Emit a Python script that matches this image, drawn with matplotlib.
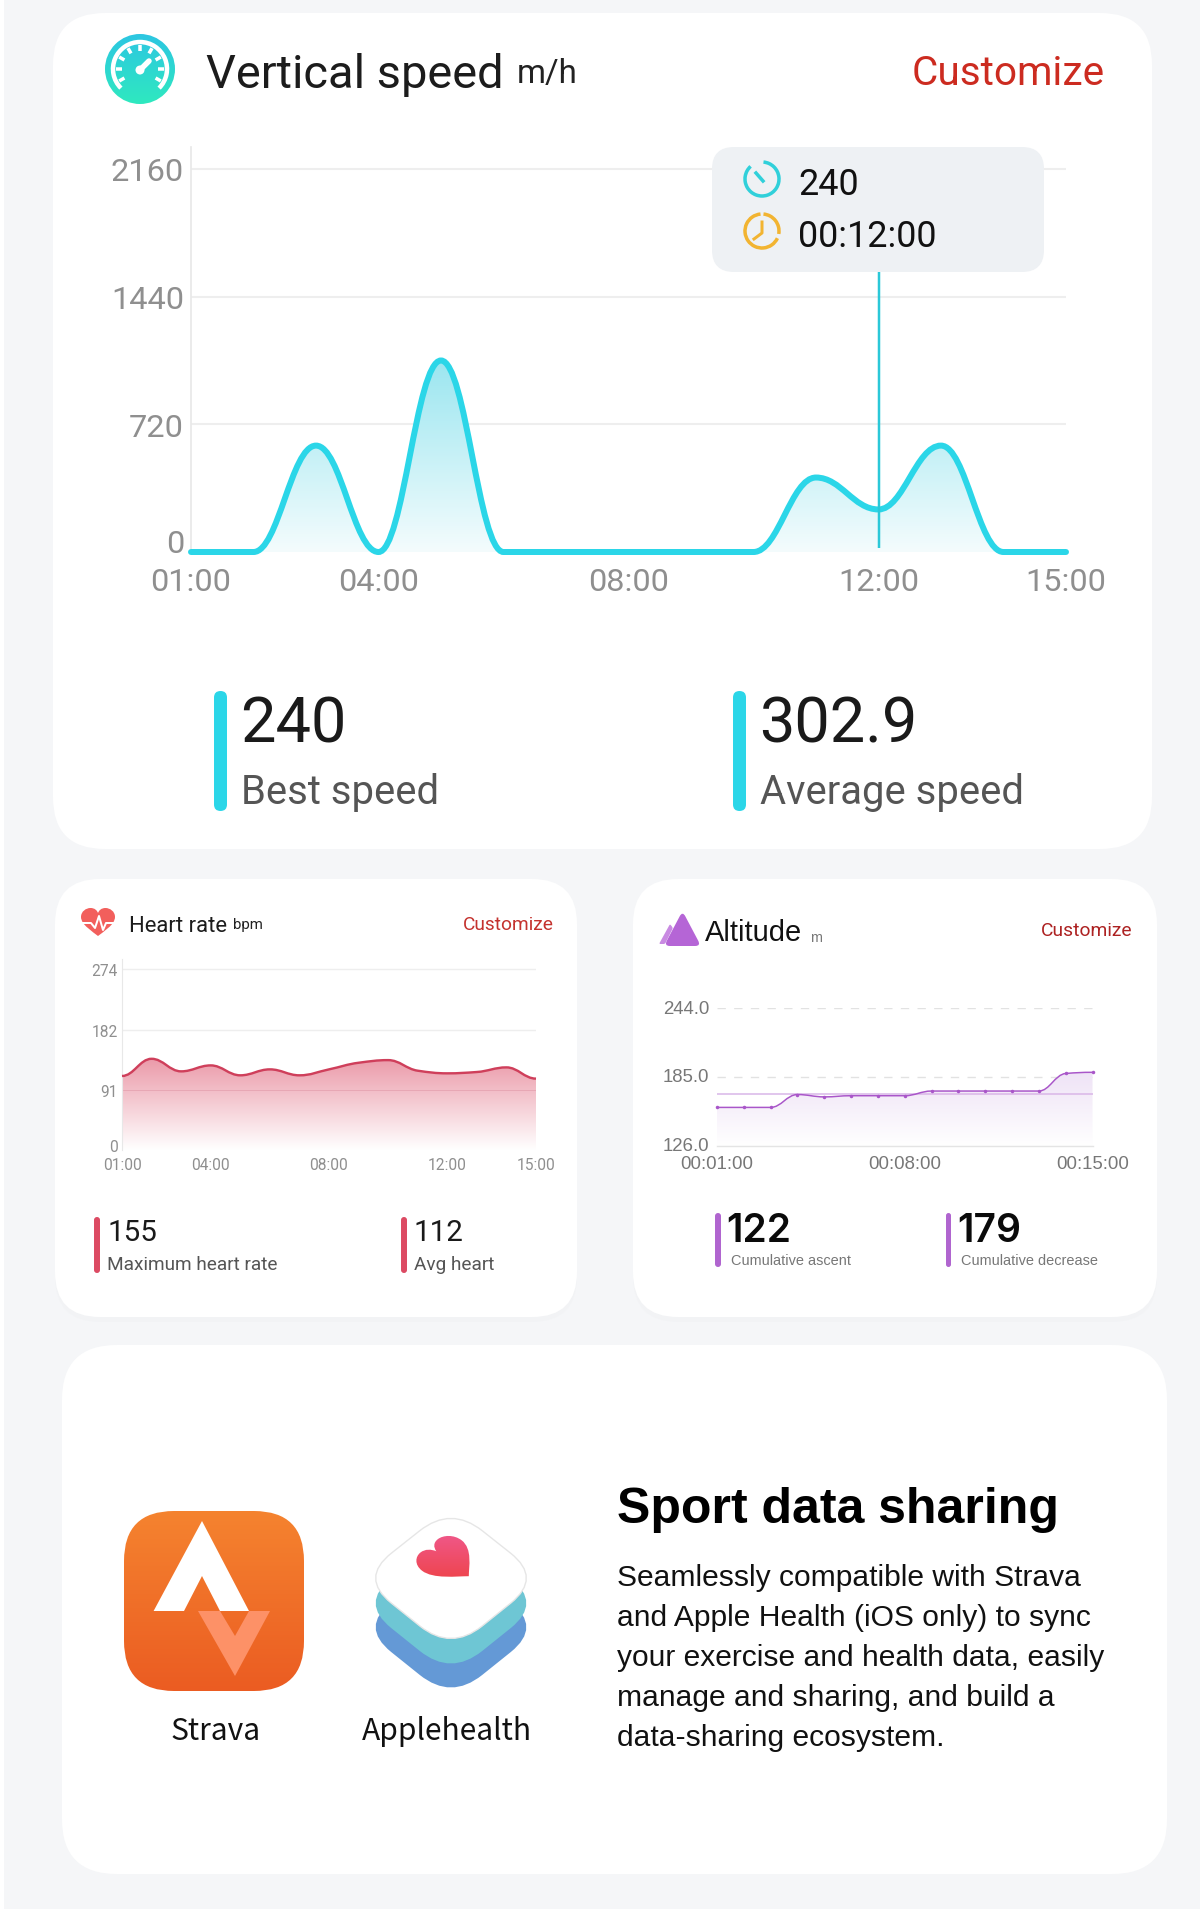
import numpy as np
import matplotlib
matplotlib.use('Agg')
import matplotlib.pyplot as plt
from matplotlib.patches import PathPatch, FancyBboxPatch, Rectangle, Circle, Arc
from matplotlib.path import Path
from matplotlib.colors import to_rgb
from matplotlib.transforms import ScaledTranslation

W, H = 1200, 1915

# vertical speed chart
speed_hours = [1, 2, 3, 4, 5, 6, 7, 8, 9, 10, 11, 12, 13, 14, 15]
speed_vals = [0, 0, 600, 0, 1080, 0, 0, 0, 0, 0, 420, 240, 600, 0, 0]
speed_yticks = [0, 720, 1440, 2160]
speed_xticks = [1, 4, 8, 12, 15]
speed_xlabels = ['01:00', '04:00', '08:00', '12:00', '15:00']
selected_hour = 12
tooltip_vals = ['240', '00:12:00']

# heart rate chart
hr_hours = [1, 2, 3, 4, 5, 6, 7, 8, 9, 10, 11, 12, 13, 14, 15]
hr_vals = [112, 138, 119, 128, 113, 122, 113, 122, 132, 136, 120, 116, 118, 125, 108]
hr_yticks = [0, 91, 182, 274]
hr_xticks = [1, 4, 8, 12, 15]
hr_xlabels = ['01:00', '04:00', '08:00', '12:00', '15:00']

# altitude chart
alt_mins = [1, 2, 3, 4, 5, 6, 7, 8, 9, 10, 11, 12, 13, 14, 15]
alt_vals = [159, 159, 159, 170, 168, 169, 169, 169, 173, 173, 173, 173, 173, 188, 189]
alt_avg = 170.4
alt_yticks = [126, 185, 244]
alt_ylabels = ['126.0', '185.0', '244.0']
alt_xticks = [1, 8, 15]
alt_xlabels = ['00:01:00', '00:08:00', '00:15:00']

body_lines = ['Seamlessly compatible with Strava',
              'and Apple Health (iOS only) to sync',
              'your exercise and health data, easily',
              'manage and sharing, and build a',
              'data-sharing ecosystem.']

CYAN = '#2bd6e8'
GRAY = '#8f8f8f'
RED = '#cc2b20'


def pt(px):
    return px * 0.72


def hermite_path(x, y, k=0.4):
    # monotone smooth line as a bezier path
    x = np.asarray(x, float)
    y = np.asarray(y, float)
    d = np.diff(y) / np.diff(x)
    m = np.zeros(len(x))
    for i in range(1, len(x) - 1):
        if d[i - 1] * d[i] > 0:
            m[i] = 2 * d[i - 1] * d[i] / (d[i - 1] + d[i])
    verts = [(x[0], y[0])]
    codes = [Path.MOVETO]
    for i in range(len(x) - 1):
        dx = x[i + 1] - x[i]
        verts += [(x[i] + k * dx, y[i] + m[i] * k * dx),
                  (x[i + 1] - k * dx, y[i + 1] - m[i + 1] * k * dx),
                  (x[i + 1], y[i + 1])]
        codes += [Path.CURVE4] * 3
    return verts, codes


def grad(ax, box, top, bottom, clip, a_top=1.0, a_bot=1.0, z=1):
    x0, x1, y_top, y_bot = box
    n = 256
    img = np.zeros((n, 2, 4))
    img[..., :3] = np.linspace(to_rgb(top), to_rgb(bottom), n)[:, None, :]
    img[..., 3] = np.linspace(a_top, a_bot, n)[:, None]
    lims = ax.get_xlim(), ax.get_ylim()
    im = ax.imshow(img, extent=(x0, x1, y_bot, y_top), origin='upper',
                   aspect='auto', zorder=z, interpolation='bilinear')
    ax.set_xlim(lims[0])
    ax.set_ylim(lims[1])
    im.set_clip_path(clip)
    return im


def rounded_poly(points, r):
    pts = np.asarray(points, float)
    n = len(pts)
    verts, codes = [], []
    for i in range(n):
        p, a, b = pts[i], pts[i - 1], pts[(i + 1) % n]
        s = p + (a - p) * r / np.linalg.norm(a - p)
        e = p + (b - p) * r / np.linalg.norm(b - p)
        verts += [s, p, e]
        codes += [Path.MOVETO if i == 0 else Path.LINETO, Path.CURVE3, Path.CURVE3]
    verts.append(verts[0])
    codes.append(Path.CLOSEPOLY)
    return Path(verts, codes)


def heart_path(cx, cy, w, h, rot=0):
    half = [(0, .5), (-.15, .35), (-.5, .1), (-.5, -.18), (-.5, -.38), (-.35, -.5),
            (-.22, -.5), (-.1, -.5), (-.03, -.42), (0, -.32)]
    mirror = [(-a, b) for a, b in half[::-1]][1:]
    v = np.array(half + mirror)
    t = np.radians(rot)
    x = v[:, 0] * np.cos(t) - v[:, 1] * np.sin(t)
    y = v[:, 0] * np.sin(t) + v[:, 1] * np.cos(t)
    verts = np.column_stack([cx + x * w, cy + y * h])
    return Path(verts, [Path.MOVETO] + [Path.CURVE4] * (len(verts) - 1))


def card(ax, x0, y0, x1, y1, r, shadow=False):
    if shadow:
        ax.add_patch(FancyBboxPatch((x0 + r, y0 + r + 5), x1 - x0 - 2 * r, y1 - y0 - 2 * r,
                                    boxstyle=f'round,pad={r},rounding_size={r}',
                                    fc='#eceef1', ec='none', alpha=0.3))
    ax.add_patch(FancyBboxPatch((x0 + r, y0 + r), x1 - x0 - 2 * r, y1 - y0 - 2 * r,
                                boxstyle=f'round,pad={r},rounding_size={r}',
                                fc='white', ec='none'))


def stat_bar(ax, x0, x1, y0, y1, color):
    r = (x1 - x0) / 2
    ax.add_patch(FancyBboxPatch((x0 + r, y0 + r), 0.01, y1 - y0 - 2 * r,
                                boxstyle=f'round,pad={r - 0.01},rounding_size={r - 0.01}',
                                fc=color, ec='none'))


def chart_axes(x0, y_top, x1, y_bot):
    a = fig.add_axes([x0 / W, 1 - y_bot / H, (x1 - x0) / W, (y_bot - y_top) / H])
    a.patch.set_alpha(0)
    for s in a.spines.values():
        s.set_visible(False)
    a.set_zorder(2)
    return a


def lift(label, px):
    label.set_transform(label.get_transform() + ScaledTranslation(0, px / 100, fig.dpi_scale_trans))


fig = plt.figure(figsize=(W / 100, H / 100), dpi=100, facecolor='white')

bg = fig.add_axes([0, 0, 1, 1])
bg.set_xlim(0, W)
bg.set_ylim(H, 0)
bg.axis('off')
bg.set_zorder(0)

top = fig.add_axes([0, 0, 1, 1])
top.set_xlim(0, W)
top.set_ylim(H, 0)
top.axis('off')
top.patch.set_alpha(0)
top.set_zorder(5)

bg.add_patch(Rectangle((4, 0), W - 4, H - 5, fc='#f5f6f8', ec='none'))
card(bg, 53, 14, 1152, 850, 52)
card(bg, 55, 880, 577, 1318, 45, shadow=True)
card(bg, 633, 880, 1157, 1318, 45, shadow=True)
card(bg, 62, 1346, 1167, 1875, 55)

# ---- vertical speed ----
ax1 = chart_axes(191, 148, 1066, 553)
ax1.set_xlim(1, 15)
ax1.set_ylim(0, 2284)
ax1.set_yticks(speed_yticks)
ax1.set_yticklabels([str(v) for v in speed_yticks])
ax1.set_xticks(speed_xticks)
ax1.set_xticklabels(speed_xlabels)
ax1.tick_params(length=0, labelsize=pt(32.5), labelcolor=GRAY, pad=pt(7))
ax1.tick_params(axis='x', pad=pt(15.5))
ax1.grid(axis='y', color='#eeeeee', lw=1.5)
ax1.set_axisbelow(True)
ax1.spines['left'].set_visible(True)
ax1.spines['left'].set_color('#e8e8e8')
ax1.spines['left'].set_linewidth(1.2)
for lab in ax1.get_xticklabels() + ax1.get_yticklabels():
    lab.set_fontfamily('Roboto')
lift(ax1.get_yticklabels()[0], 11)

verts, codes = hermite_path(speed_hours, speed_vals)
area = PathPatch(Path(verts + [(15, 0), (1, 0), (1, 0)], codes + [Path.LINETO, Path.LINETO, Path.CLOSEPOLY]),
                 transform=ax1.transData, fc='none', ec='none')
ax1.add_patch(area)
grad(ax1, (1, 15, max(speed_vals), 0), '#9be6f0', '#f4fcfd', area, z=1.5)
ax1.add_patch(PathPatch(Path(verts, codes), fc='none', ec=CYAN, lw=pt(6), capstyle='round',
                        zorder=3, clip_on=False))
ax1.vlines(selected_hour, 20, 1590, color='#2bc8d8', lw=pt(2.5), zorder=4)

# header
top.text(206, 88, 'Vertical speed', family='Roboto', fontsize=pt(47), color='#1c1c1c')
top.text(517, 83, 'm/h', family='Roboto', fontsize=pt(33), color='#222222')
top.text(912, 85, 'Customize', family='Roboto', fontsize=pt(40.5), color=RED)

# gauge icon
gauge = Circle((140, 70), 35, fc='none', ec='none')
top.add_patch(gauge)
grad(top, (105, 175, 35, 105), '#2cc6e2', '#2fe9bf', gauge, z=2)
top.add_patch(Arc((140, 70), 54, 54, theta1=135, theta2=405, color='white', lw=pt(4.5), zorder=3))
for a in np.radians(np.arange(-210, 31, 30)):
    top.plot([140 + 18 * np.cos(a), 140 + 24 * np.cos(a)], [70 + 18 * np.sin(a), 70 + 24 * np.sin(a)],
             color='white', lw=pt(3.5), zorder=3, solid_capstyle='butt')
top.plot([140, 149], [71, 62], color='white', lw=pt(5.5), zorder=3, solid_capstyle='round')
top.add_patch(Circle((140, 71), 4.5, fc='white', ec='none', zorder=3))

# tooltip
top.add_patch(FancyBboxPatch((712 + 22, 148 + 22), 332 - 44, 125 - 44,
                             boxstyle='round,pad=22,rounding_size=22', fc='#eef1f4', ec='none', zorder=1))
top.add_patch(Arc((762, 180), 34, 34, theta1=-85, theta2=228, color='#30d0da', lw=pt(3.5), zorder=2))
top.plot([756, 763], [174, 182], color='#30d0da', lw=pt(3.5), zorder=2)
top.add_patch(Arc((762, 232), 34, 34, theta1=-85, theta2=10, color='#f2b431', lw=pt(3.5), zorder=2))
top.add_patch(Arc((762, 232), 34, 34, theta1=25, theta2=265, color='#f2b431', lw=pt(3.5), zorder=2))
top.plot([762, 762, 754], [223, 234, 240], color='#f2b431', lw=pt(3), zorder=2)
top.text(798, 195, tooltip_vals[0], family='Roboto', fontsize=pt(36), color='#111111', zorder=2)
top.text(798, 247, tooltip_vals[1], family='Roboto', fontsize=pt(36), color='#111111', zorder=2)

# stats
stat_bar(bg, 214, 227, 692, 812, CYAN)
stat_bar(bg, 733, 746, 692, 812, CYAN)
top.text(240, 743, '240', family='Roboto', fontsize=pt(63), color='#1a1a1a')
top.text(759, 743, '302.9', family='Roboto', fontsize=pt(63), color='#1a1a1a')
top.text(241, 804, 'Best speed', family='Roboto', fontsize=pt(40), color='#555555')
top.text(760, 804, 'Average speed', family='Roboto', fontsize=pt(40), color='#555555')

# ---- heart rate ----
ax2 = chart_axes(122, 960, 536, 1151)
ax2.set_xlim(1, 15)
ax2.set_ylim(0, 289)
ax2.set_yticks(hr_yticks)
ax2.set_yticklabels([str(v) for v in hr_yticks])
ax2.set_xticks(hr_xticks)
ax2.set_xticklabels(hr_xlabels)
ax2.tick_params(length=0, labelsize=pt(15.5), labelcolor=GRAY, pad=pt(4))
ax2.tick_params(axis='x', pad=pt(7))
ax2.grid(axis='y', color='#eeeeee', lw=1)
ax2.set_axisbelow(True)
ax2.spines['left'].set_visible(True)
ax2.spines['left'].set_color('#e8e8e8')
ax2.spines['left'].set_linewidth(0.8)
for lab in ax2.get_xticklabels() + ax2.get_yticklabels():
    lab.set_fontfamily('Roboto')
lift(ax2.get_yticklabels()[0], 5)

verts, codes = hermite_path(hr_hours, hr_vals)
area = PathPatch(Path(verts + [(15, 0), (1, 0), (1, 0)], codes + [Path.LINETO, Path.LINETO, Path.CLOSEPOLY]),
                 transform=ax2.transData, fc='none', ec='none')
ax2.add_patch(area)
grad(ax2, (1, 15, max(hr_vals), 0), '#eb9aa9', '#ffffff', area, z=1.5)
ax2.axhline(91, color='#d98a9a', lw=0.6, alpha=0.5, zorder=2)
ax2.add_patch(PathPatch(Path(verts, codes), fc='none', ec='#cf3f5b', lw=pt(2.4), zorder=3, clip_on=False))

hrt = heart_path(98, 923, 34, 28)
top.add_patch(PathPatch(hrt, fc='#f25f5c', ec='none', zorder=2))
top.plot([83, 91, 95, 99, 103, 106, 113], [924, 924, 929, 917, 931, 924, 924], color='white', lw=pt(2), zorder=3)
top.text(129, 932, 'Heart rate', family='Roboto', fontsize=pt(22), color='#1c1c1c')
top.text(233, 929, 'bpm', family='Roboto', fontsize=pt(15), color='#222222')
top.text(463, 930, 'Customize', family='Roboto', fontsize=pt(19.2), color='#c4322e')

stat_bar(bg, 94, 100, 1218, 1274, '#dc4a63')
stat_bar(bg, 401, 407, 1218, 1274, '#dc4a63')
top.text(107, 1241, '155', family='Roboto', fontsize=pt(29.5), color='#1a1a1a')
top.text(414, 1241, '112', family='Roboto', fontsize=pt(29.5), color='#1a1a1a')
top.text(107, 1270, 'Maximum heart rate', family='Roboto', fontsize=pt(19), color='#555555')
top.text(414, 1270, 'Avg heart', family='Roboto', fontsize=pt(19), color='#555555')

# ---- altitude ----
ax3 = chart_axes(717, 1009, 1092.5, 1147)
ax3.set_xlim(1, 15)
ax3.set_ylim(126, 244)
ax3.set_yticks(alt_yticks)
ax3.set_yticklabels(alt_ylabels)
ax3.set_xticks(alt_xticks)
ax3.set_xticklabels(alt_xlabels)
ax3.tick_params(length=0, labelsize=pt(18.6), labelcolor='#777777', pad=pt(8))
ax3.tick_params(axis='x', pad=pt(9))
for lab in ax3.get_xticklabels() + ax3.get_yticklabels():
    lab.set_fontfamily('Liberation Sans')
for lab in ax3.get_yticklabels():
    lift(lab, 2)
ax3.grid(axis='y', color='#e2e2e2', lw=1, ls=(0, (6, 6)))
ax3.set_axisbelow(True)
ax3.spines['bottom'].set_visible(True)
ax3.spines['bottom'].set_color('#e4e4e4')
ax3.spines['bottom'].set_linewidth(1)

verts, codes = hermite_path(alt_mins, alt_vals)
area = PathPatch(Path(verts + [(15, 126), (1, 126), (1, 126)], codes + [Path.LINETO, Path.LINETO, Path.CLOSEPOLY]),
                 transform=ax3.transData, fc='none', ec='none')
ax3.add_patch(area)
grad(ax3, (1, 15, max(alt_vals), 126), '#efe3f6', '#ffffff', area, z=1.5)
ax3.axhline(alt_avg, color='#d9b6e8', lw=1.1, zorder=2)
ax3.add_patch(PathPatch(Path(verts, codes), fc='none', ec='#a956c9', lw=pt(1.5), zorder=3))
ax3.plot(alt_mins, alt_vals, ls='none', marker='o', ms=pt(3.5), color='#a956c9', mew=0, zorder=3, clip_on=False)

top.add_patch(PathPatch(rounded_poly([(682.5, 912), (701, 947), (664, 947)], 6), fc='#b565d6', ec='none', zorder=2))
top.add_patch(PathPatch(rounded_poly([(670, 925), (673, 929), (665, 945), (659, 945)], 1.5), fc='#c98ae2', ec='none', zorder=2))
top.text(705, 941, 'Altitude', family='Liberation Sans', fontsize=pt(29), color='#111111')
top.text(810, 942, 'm', family='Liberation Sans', fontsize=pt(14.5), color='#777777')
top.text(1041, 936, 'Customize', family='Roboto', fontsize=pt(19.3), color='#ad2222')

stat_bar(bg, 715, 721, 1214, 1268, '#b065cf')
stat_bar(bg, 946, 951, 1214, 1268, '#b065cf')
top.text(726, 1242, '122', family='Inter', fontsize=pt(39), fontweight='semibold', color='#0a0a0a')
top.text(957, 1242, '179', family='Inter', fontsize=pt(39), fontweight='semibold', color='#0a0a0a')
top.text(731, 1265, 'Cumulative ascent', family='Liberation Sans', fontsize=pt(14.5), color='#777777')
top.text(961, 1265, 'Cumulative decrease', family='Liberation Sans', fontsize=pt(14.5), color='#777777')

# ---- sharing card ----
strava = FancyBboxPatch((124 + 50, 1512 + 50), 180 - 100, 180 - 100,
                        boxstyle='round,pad=50,rounding_size=50', fc='none', ec='none')
top.add_patch(strava)
grad(top, (124, 304, 1512, 1692), '#f5832f', '#eb5c22', strava, z=2)
top.fill([198, 220, 235, 249, 270, 235], [1612, 1612, 1637, 1612, 1612, 1677], color='#fd9167', lw=0, zorder=3)
top.fill([202, 249, 220, 202, 184, 153.6], [1522, 1612, 1612, 1577, 1612, 1612], color='white', lw=0, zorder=3)

diamond = [(451, 1507), (542, 1579), (451, 1652), (360, 1579)]
for dy, col in [(49, '#6499d6'), (25, '#6ec6d4')]:
    top.add_patch(PathPatch(rounded_poly([(a, b + dy) for a, b in diamond], 40), fc=col, ec='none', zorder=2))
top.add_patch(PathPatch(rounded_poly(diamond, 40), fc='white', ec='#e6e6e6', lw=1, zorder=2))
hh = PathPatch(heart_path(449, 1562, 56, 43, rot=-45), fc='none', ec='none')
top.add_patch(hh)
grad(top, (410, 480, 1530, 1590), '#f05a90', '#ee4040', hh, z=3)

top.text(216, 1740, 'Strava', family='Noto Sans CJK SC', fontsize=pt(30), color='#111111', ha='center')
top.text(447, 1740, 'Applehealth', family='Noto Sans CJK SC', fontsize=pt(30), color='#111111', ha='center')

top.text(617, 1523, 'Sport data sharing', family='Liberation Sans', fontweight='bold', fontsize=pt(50), color='black')
for i, line in enumerate(body_lines):
    top.text(617, 1586 + i * 40, line, family='Liberation Sans', fontsize=pt(30), color='#111111')

fig.savefig('out.png', dpi=100)
